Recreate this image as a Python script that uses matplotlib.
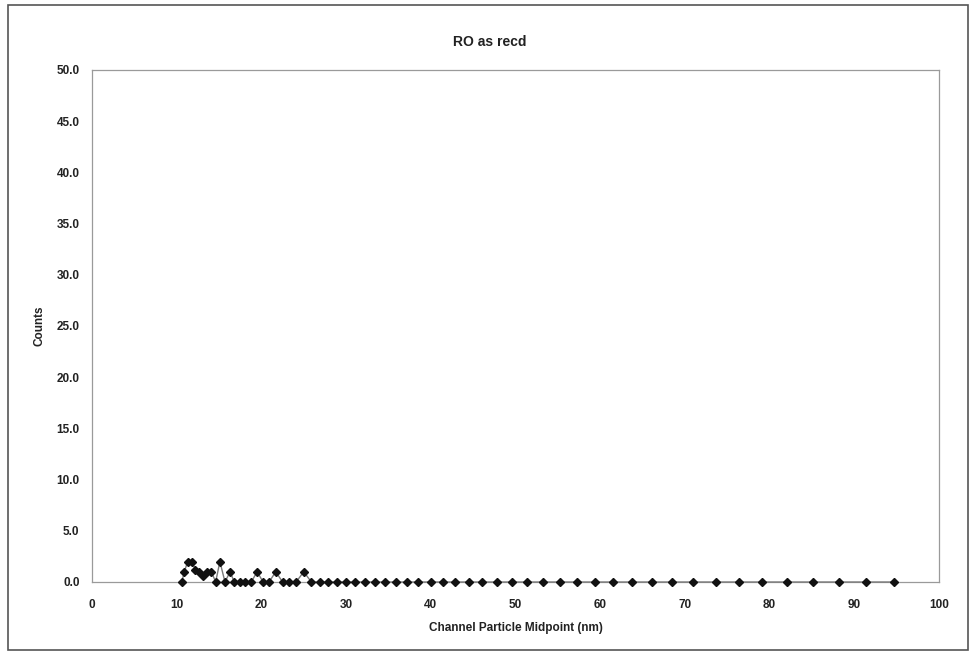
import matplotlib
matplotlib.use("Agg")
from matplotlib import pyplot as plt
from matplotlib.patches import Rectangle

# channel midpoints (nm) and counts
midpoints = [10.6, 10.9, 11.3, 11.8, 12.2, 12.6, 13.1, 13.6, 14.1, 14.6,
             15.1, 15.7, 16.3, 16.8, 17.5, 18.1, 18.8, 19.5, 20.2, 20.9,
             21.7, 22.5, 23.3, 24.1, 25.0, 25.9, 26.9, 27.9, 28.9, 30.0,
             31.1, 32.2, 33.4, 34.6, 35.9, 37.2, 38.5, 40.0, 41.4, 42.9,
             44.5, 46.1, 47.8, 49.6, 51.4, 53.3, 55.2, 57.3, 59.4, 61.5,
             63.8, 66.1, 68.5, 71.0, 73.7, 76.4, 79.1, 82.0, 85.1, 88.2,
             91.4, 94.7]
counts = [0, 1, 2, 2, 1.2, 1.0, 0.6, 1.0, 1.0, 0,
          2, 0, 1, 0, 0, 0, 0, 1, 0, 0,
          1, 0, 0, 0, 1, 0, 0, 0, 0, 0,
          0, 0, 0, 0, 0, 0, 0, 0, 0, 0,
          0, 0, 0, 0, 0, 0, 0, 0, 0, 0,
          0, 0, 0, 0, 0, 0, 0, 0, 0, 0,
          0, 0]

x_ticks = [0, 10, 20, 30, 40, 50, 60, 70, 80, 90, 100]
y_ticks = [0, 5, 10, 15, 20, 25, 30, 35, 40, 45, 50]

plt.rcParams['font.family'] = ['Liberation Sans', 'DejaVu Sans']

fig = plt.figure(figsize=(9.71, 6.58), dpi=100)
# outer chart frame
fig.patches.append(Rectangle((8 / 971, 1 - 650 / 658), 960 / 971, 645 / 658,
                             transform=fig.transFigure, fill=False,
                             edgecolor='#555555', linewidth=1.2))

ax = fig.add_axes([92 / 971, 1 - 582 / 658, 847 / 971, 512 / 658])
ax.plot(midpoints, counts, color='#7a7a7a', linewidth=1.0,
        marker='D', markersize=4.0, markerfacecolor='#111111',
        markeredgecolor='#111111', zorder=3, clip_on=False)

ax.set_xlim(0, 100)
ax.set_ylim(0, 50)
ax.set_xticks(x_ticks)
ax.set_yticks(y_ticks)
ax.set_xticklabels([str(t) for t in x_ticks], fontsize=8.5, fontweight='bold', color='#222222')
ax.set_yticklabels(['%.1f' % t for t in y_ticks], fontsize=8.5, fontweight='bold', color='#222222')
ax.tick_params(axis='both', length=0)
ax.tick_params(axis='x', pad=12)
ax.tick_params(axis='y', pad=9)

for side in ['left', 'right', 'top', 'bottom']:
    ax.spines[side].set_color('#9a9a9a')
    ax.spines[side].set_linewidth(0.9)

fig.text(490 / 971, 1 - 42 / 658, 'RO as recd', fontsize=10, fontweight='bold',
         color='#222222', ha='center', va='center')
ax.set_xlabel('Channel Particle Midpoint (nm)', fontsize=8.5, fontweight='bold',
              color='#222222', labelpad=8)
ax.set_ylabel('Counts', fontsize=8.5, fontweight='bold', color='#222222', labelpad=8)

fig.savefig('out.png', dpi=100)
